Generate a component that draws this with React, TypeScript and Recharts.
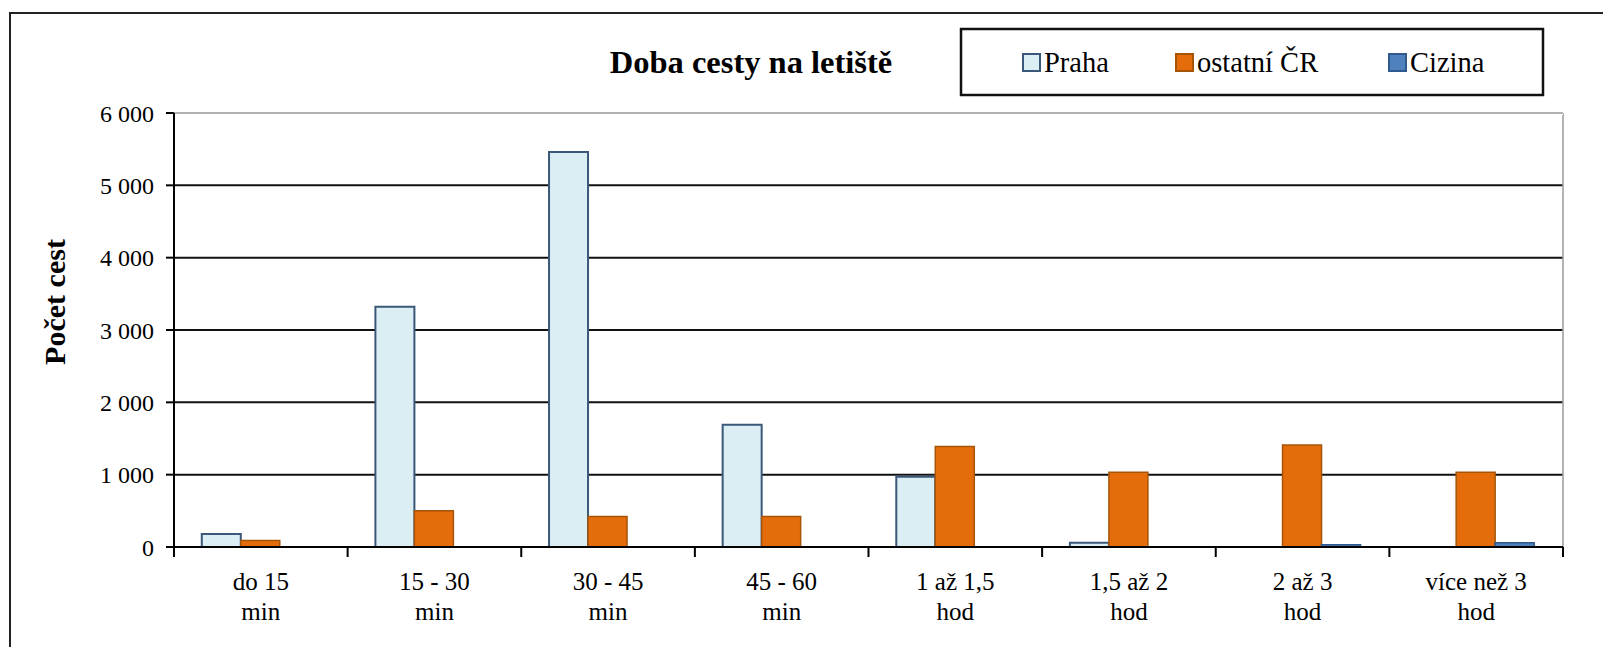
import React from "react";
import {
  Bar,
  BarChart,
  CartesianGrid,
  ReferenceLine,
  XAxis,
  YAxis,
} from "recharts";

const categories = [
  "do 15 min",
  "15 - 30 min",
  "30 - 45 min",
  "45 - 60 min",
  "1 až 1,5 hod",
  "1,5 až 2 hod",
  "2 až 3 hod",
  "více než 3 hod",
];
const praha = [180, 3320, 5460, 1690, 970, 60, 0, 0];
const ostatniCR = [90, 500, 420, 420, 1390, 1035, 1410, 1035];
const cizina = [0, 0, 0, 0, 0, 0, 30, 60];
const yTicks = [0, 1000, 2000, 3000, 4000, 5000, 6000];

const chartData = categories.map((name, i) => ({
  name,
  praha: praha[i],
  ostatni: ostatniCR[i],
  cizina: cizina[i],
}));

const serif = "'Liberation Serif', 'Times New Roman', serif";

const formatThousands = (v: number) =>
  String(v).replace(/\B(?=(\d{3})+(?!\d))/g, "\u00a0");

const CategoryTick = (props: any) => {
  const { x, y, payload, index } = props;
  const half = payload?.offset ?? 0;
  const label: string = payload.value;
  const cut = label.lastIndexOf(" ");
  const first = label.slice(0, cut);
  const second = label.slice(cut + 1);
  return (
    <g>
      <line x1={x - half} x2={x - half} y1={y} y2={y + 10} stroke="#000" strokeWidth={2} />
      {index === categories.length - 1 && (
        <line x1={x + half} x2={x + half} y1={y} y2={y + 10} stroke="#000" strokeWidth={2} />
      )}
      <text x={x} y={y + 43} textAnchor="middle" fontFamily={serif} fontSize={25} fill="#000">
        {first}
      </text>
      <text x={x} y={y + 73} textAnchor="middle" fontFamily={serif} fontSize={25} fill="#000">
        {second}
      </text>
    </g>
  );
};

const legendItems = [
  { label: "Praha", fill: "#DBEEF4", stroke: "#3B5878", x: 1023 },
  { label: "ostatní ČR", fill: "#E46C0A", stroke: "#A65508", x: 1176 },
  { label: "Cizina", fill: "#4F81BD", stroke: "#2F5A8F", x: 1389 },
];

export default function App() {
  return (
    <div
      style={{
        position: "absolute",
        left: 0,
        top: 0,
        width: 1603,
        height: 647,
        overflow: "hidden",
        background: "#fff",
      }}
    >
      <div
        style={{
          position: "absolute",
          left: 9,
          top: 12,
          width: 1700,
          height: 800,
          border: "2.5px solid #222",
        }}
      />
      <div style={{ position: "absolute", left: 0, top: 0 }}>
        <BarChart
          width={1603}
          height={647}
          data={chartData}
          margin={{ top: 113, right: 40, bottom: 0, left: 0 }}
          barCategoryGap="16%"
          barGap={0}
        >
          <CartesianGrid vertical={false} stroke="#111" strokeWidth={2} />
          <CartesianGrid
            horizontal={false}
            stroke="#9a9a9a"
            strokeWidth={1.5}
            verticalCoordinatesGenerator={({ offset }: any) => [
              offset.left + offset.width,
            ]}
          />
          <ReferenceLine y={6000} stroke="#fff" strokeWidth={4} />
          <ReferenceLine y={6000} stroke="#9a9a9a" strokeWidth={1.5} />
          <XAxis
            dataKey="name"
            height={100}
            interval={0}
            tickSize={0}
            tickMargin={0}
            tickLine={false}
            axisLine={{ stroke: "#000", strokeWidth: 2 }}
            tick={<CategoryTick />}
          />
          <YAxis
            width={174}
            domain={[0, 6000]}
            ticks={yTicks}
            interval={0}
            tickSize={8}
            tickMargin={12}
            tickFormatter={formatThousands}
            axisLine={{ stroke: "#000", strokeWidth: 2 }}
            tickLine={{ stroke: "#000", strokeWidth: 2 }}
            tick={{ fill: "#000", fontSize: 24, fontFamily: serif }}
          />
          <Bar dataKey="praha" name="Praha" fill="#DBEEF4" stroke="#3B5878" strokeWidth={2} isAnimationActive={false} />
          <Bar dataKey="ostatni" name="ostatní ČR" fill="#E46C0A" stroke="#A65508" strokeWidth={1.5} isAnimationActive={false} />
          <Bar dataKey="cizina" name="Cizina" fill="#4F81BD" stroke="#2F5A8F" strokeWidth={1.5} isAnimationActive={false} />
        </BarChart>
      </div>
      <svg
        width={1603}
        height={647}
        style={{ position: "absolute", left: 0, top: 0, pointerEvents: "none" }}
      >
        <text x={751} y={73} textAnchor="middle" fontFamily={serif} fontWeight="bold" fontSize={32.5} fill="#000">
          Doba cesty na letiště
        </text>
        <text
          x={65}
          y={302}
          textAnchor="middle"
          fontFamily={serif}
          fontWeight="bold"
          fontSize={30}
          fill="#000"
          transform="rotate(-90 65 302)"
        >
          Počet cest
        </text>
        <rect x={961} y={29} width={582} height={66} fill="#fff" stroke="#111" strokeWidth={2.5} />
        {legendItems.map((item) => (
          <g key={item.label}>
            <rect x={item.x} y={54} width={17} height={17} fill={item.fill} stroke={item.stroke} strokeWidth={2} />
            <text x={item.x + 21} y={72} fontFamily={serif} fontSize={28.5} fill="#000">
              {item.label}
            </text>
          </g>
        ))}
      </svg>
    </div>
  );
}
